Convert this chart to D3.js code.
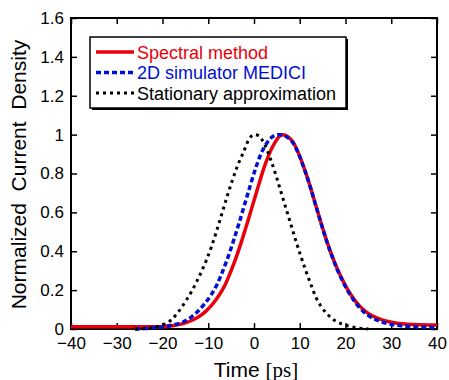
<!DOCTYPE html>
<html>
<head>
<meta charset="utf-8">
<script src="https://cdn.jsdelivr.net/npm/d3@7"></script>
<style>
  body { margin: 0; background: #fff; }
  svg { display: block; font-family: "Liberation Sans", Arial, sans-serif; }
</style>
</head>
<body>
<svg id="chart" width="449" height="380"></svg>
<script>
// values
var spectralT = [-40, -30, -20.5, -17.5, -15.5, -13.5, -12, -10.5, -9, -7.6, -6.3, -5, -3.8, -2.6, -1.4, -0.2, 1, 2.2, 3.4, 4.6, 5.5, 6.3,
  7.4, 8.6, 9.8, 11, 12.2, 13.4, 14.6, 15.8, 17, 18.2, 19.4, 20.6, 21.8, 23, 24.5, 26, 28, 31, 35, 40]
var spectralV = [0.012, 0.012, 0.012, 0.018, 0.028, 0.045, 0.064, 0.092, 0.13, 0.175, 0.228, 0.3, 0.375, 0.46, 0.55, 0.645, 0.74, 0.83, 0.905, 0.96, 0.99, 1.0,
  0.99, 0.96, 0.9, 0.825, 0.74, 0.645, 0.55, 0.46, 0.38, 0.31, 0.25, 0.198, 0.155, 0.12, 0.088, 0.066, 0.047, 0.031, 0.023, 0.02]

var mediciT = [-26, -24, -21.5, -19.5, -17.5, -15.5, -13.8, -12.3, -10.8, -9.4, -8.1, -6.8, -5.6, -4.4, -3.2, -2, -0.8, 0.4, 1.6, 2.9, 4.1, 5.5,
  7, 8.6, 9.8, 11, 12.2, 13.4, 14.6, 15.8, 17, 18.2, 19.4, 20.6, 21.8, 23, 24.5, 26, 28, 31, 35, 40]
var mediciV = [0, 0.002, 0.006, 0.012, 0.022, 0.036, 0.06, 0.09, 0.13, 0.175, 0.228, 0.3, 0.375, 0.46, 0.55, 0.645, 0.74, 0.83, 0.905, 0.96, 0.99, 1.0,
  0.99, 0.955, 0.898, 0.823, 0.738, 0.643, 0.548, 0.458, 0.377, 0.306, 0.245, 0.192, 0.148, 0.112, 0.078, 0.055, 0.036, 0.02, 0.012, 0.008]

var stationaryT = [-26, -23, -21.3, -19.5, -18, -16.9, -15.8, -14.7, -13.6, -12.5, -11.4, -10.3, -9.2, -8.1, -7, -5.9, -4.8, -3.6, -2.3, -1, 0, 1,
  2.3, 3.6, 4.8, 5.9, 7, 8.1, 9.2, 10.3, 11.4, 12.5, 13.6, 14.7, 15.8, 16.9, 18.2, 20.3, 22.1, 23.5, 25]
var stationaryV = [0, 0.005, 0.012, 0.026, 0.048, 0.078, 0.112, 0.152, 0.195, 0.245, 0.3, 0.36, 0.43, 0.51, 0.595, 0.68, 0.76, 0.84, 0.91, 0.98, 1.0, 0.995,
  0.95, 0.875, 0.79, 0.705, 0.62, 0.535, 0.45, 0.37, 0.295, 0.225, 0.16, 0.115, 0.082, 0.057, 0.036, 0.018, 0.008, 0.003, 0]

var seriesNames = ['Spectral method', '2D simulator MEDICI', 'Stationary approximation']
var xTicks = [-40, -30, -20, -10, 0, 10, 20, 30, 40]
var yTicks = [0, 0.2, 0.4, 0.6, 0.8, 1, 1.2, 1.4, 1.6]

var svg = d3.select('#chart')
// plot box edges (note: "top" is a reserved window global, so prefix them)
var plotLeft = 71, plotRight = 437, plotTop = 18, plotBottom = 329

var x = d3.scaleLinear().domain([-40, 40]).range([plotLeft, plotRight])
var y = d3.scaleLinear().domain([0, 1.6]).range([plotBottom, plotTop])

function zip (ts, vs) {
  return ts.map((t, i) => ({ t: t, v: vs[i] }))
}

var series = [
  { name: seriesNames[0], data: zip(spectralT, spectralV), color: '#e8000b', dash: null, width: 3.5 },
  { name: seriesNames[1], data: zip(mediciT, mediciV), color: '#0010d0', dash: '5,3', width: 3.5 },
  { name: seriesNames[2], data: zip(stationaryT, stationaryV), color: '#000', dash: '3,4', width: 3 }
]

// axes, ticks pointing inward
var xAxis = svg.append('g')
  .attr('transform', 'translate(0,' + plotBottom + ')')
  .call(d3.axisBottom(x).tickValues(xTicks).tickSize(-6).tickPadding(8))
xAxis.select('.domain').remove()
xAxis.selectAll('text').attr('font-size', 17).attr('fill', '#000').attr('font-family', 'Liberation Sans, Arial, sans-serif')

var xTop = svg.append('g')
  .attr('transform', 'translate(0,' + plotTop + ')')
  .call(d3.axisTop(x).tickValues(xTicks).tickSize(-6).tickFormat(''))
xTop.select('.domain').remove()

var yAxis = svg.append('g')
  .attr('transform', 'translate(' + plotLeft + ',0)')
  .call(d3.axisLeft(y).tickValues(yTicks).tickSize(-6).tickPadding(7).tickFormat(d3.format('~g')))
yAxis.select('.domain').remove()
yAxis.selectAll('text').attr('font-size', 17).attr('fill', '#000').attr('font-family', 'Liberation Sans, Arial, sans-serif')

var yRight = svg.append('g')
  .attr('transform', 'translate(' + plotRight + ',0)')
  .call(d3.axisRight(y).tickValues(yTicks).tickSize(-6).tickFormat(''))
yRight.select('.domain').remove()

svg.selectAll('.tick line').attr('stroke', '#000').attr('stroke-width', 1.5)

svg.append('rect')
  .attr('x', plotLeft).attr('y', plotTop)
  .attr('width', plotRight - plotLeft).attr('height', plotBottom - plotTop)
  .attr('fill', 'none').attr('stroke', '#000').attr('stroke-width', 2)

// curves
var line = d3.line()
  .x((d) => x(d.t))
  .y((d) => y(d.v))
  .curve(d3.curveMonotoneX)

svg.append('g').selectAll('path')
  .data(series)
  .enter().append('path')
    .attr('d', (d) => line(d.data))
    .attr('fill', 'none')
    .attr('stroke', (d) => d.color)
    .attr('stroke-width', (d) => d.width)
    .attr('stroke-dasharray', (d) => d.dash)

// legend
var legend = svg.append('g')
legend.append('rect')
  .attr('x', 92).attr('y', 39).attr('width', 256).attr('height', 71)
  .attr('fill', '#000')
legend.append('rect')
  .attr('x', 90).attr('y', 37).attr('width', 256).attr('height', 71)
  .attr('fill', '#fff').attr('stroke', '#000').attr('stroke-width', 1.5)

var rows = legend.selectAll('g.row')
  .data(series)
  .enter().append('g')
    .attr('class', 'row')
    .attr('transform', (d, i) => 'translate(0,' + (52 + i * 20.5) + ')')

rows.append('line')
  .attr('x1', 96).attr('x2', 134)
  .attr('stroke', (d) => d.color)
  .attr('stroke-width', (d) => d.width)
  .attr('stroke-dasharray', (d) => d.dash)

rows.append('text')
  .attr('x', 137).attr('y', 6.5)
  .attr('font-size', 18)
  .attr('fill', (d) => d.color)
  .text((d) => d.name)

// axis titles
svg.append('text')
  .attr('transform', 'translate(26,' + ((plotTop + plotBottom) / 2 + 1) + ') rotate(-90)')
  .attr('text-anchor', 'middle')
  .attr('font-size', 21)
  .style('white-space', 'pre')
  .text('Normalized  Current  Density')

var xTitle = svg.append('text')
  .attr('x', 256).attr('y', 377)
  .attr('text-anchor', 'middle')
  .attr('font-size', 21)
xTitle.append('tspan').text('Time ')
xTitle.append('tspan').attr('font-family', '"Liberation Serif", "Times New Roman", serif').text('[ps]')
</script>
</body>
</html>
